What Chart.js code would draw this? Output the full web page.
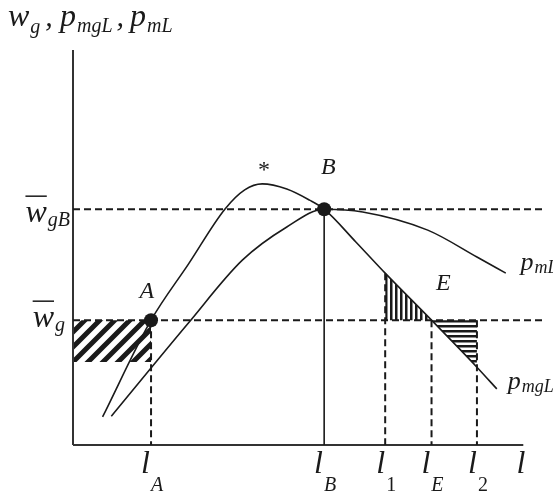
<!DOCTYPE html>
<html>
<head>
<meta charset="utf-8">
<script src="https://cdn.jsdelivr.net/npm/chart.js@4.4.1/dist/chart.umd.min.js"></script>
<style>
  html, body { margin: 0; padding: 0; background: #fff; }
  canvas { display: block; }
</style>
</head>
<body>
<canvas id="chart" width="553" height="494"></canvas>
<script>
// curve shapes (x = labour, y = value)
const pmgLX = [6.25, 16.5, 24.4, 32.1, 36.3, 40.0, 45.2, 50.0, 53.1, 59.8, 66.0, 75.8, 85.4, 89.6];
const pmgLY = [7.1, 31.6, 45.8, 59.7, 64.6, 66.1, 64.8, 62.0, 59.7, 51.4, 43.5, 31.6, 19.7, 14.2];
const pmLX = [8.1, 24.4, 35.8, 45.2, 53.1, 61.25, 75.0, 85.4, 91.5];
const pmLY = [7.3, 30.9, 46.8, 55.2, 59.7, 59.0, 54.4, 47.6, 43.5];

// x positions of l_A, l_B, l_1, l_E, l_2 and the axis name l
const xTicks = [16.5, 53.1, 66.0, 75.8, 85.4, 94.6];
const xTickSubs = ['A', 'B', '1', 'E', '2', ''];
const xGuideTops = [31.6, 59.7, 43.5, 31.6, 31.6];

// wage levels
const yLevels = [59.7, 31.6];
const yLevelSubs = ['gB', 'g'];

// marked points A and B
const dotX = [16.5, 53.1];
const dotY = [31.6, 59.7];

// hatched areas
const lossLeftX = [0, 16.5];
const lossLeftTop = 31.6;
const lossLeftBottom = 21.0;
const gainX = [66.0, 75.8];
const gainY = [43.5, 31.6];
const lossRightX = [75.8, 85.4];
const lossRightY = [31.6, 19.7];

const axisXEnd = 95.2;

// text marks
const annText = ['A', 'B', '*', 'E'];
const annX = [15.6, 54.0, 40.4, 78.3];
const annY = [38.7, 70.1, 70.6, 40.8];
const curveSubs = ['mL', 'mgL'];
const curveLabelX = [94.6, 91.9];
const curveLabelY = [44.3, 14.2];

const INK = '#1a1a1a';
const SERIF = '"Liberation Serif", "DejaVu Serif", serif';

function pts(xs, ys) {
    return xs.map((x, i) => ({ x, y: ys[i] }));
}

function line(data, extra) {
    return Object.assign({
        data,
        borderColor: INK,
        borderWidth: 1.6,
        pointRadius: 0,
        fill: false,
        tension: 0,
        clip: false,
        order: 5
    }, extra || {});
}

function hatch(kind) {
    const c = document.createElement('canvas');
    const g = c.getContext('2d');
    if (kind === 'diag') {
        const s = 15;
        c.width = s; c.height = s;
        g.strokeStyle = INK;
        g.lineWidth = 5;
        g.beginPath();
        g.moveTo(-s, s); g.lineTo(s, -s);
        g.moveTo(0, s * 2); g.lineTo(s * 2, 0);
        g.moveTo(0, s); g.lineTo(s, 0);
        g.stroke();
    } else if (kind === 'vert') {
        c.width = 5; c.height = 5;
        g.fillStyle = INK;
        g.fillRect(0, 0, 2.5, 5);
    } else {
        c.width = 5; c.height = 5;
        g.fillStyle = INK;
        g.fillRect(0, 0, 5, 2.5);
    }
    return g.createPattern(c, 'repeat');
}

const datasets = [];

// hatched areas first (drawn behind)
datasets.push(line(pts(lossLeftX, [lossLeftTop, lossLeftTop]), {
    borderWidth: 0, fill: { value: lossLeftBottom }, backgroundColor: hatch('diag'), order: 20
}));
datasets.push(line(pts(gainX, gainY), {
    borderWidth: 0, fill: { value: gainY[1] }, backgroundColor: hatch('vert'), order: 20
}));
datasets.push(line(pts(lossRightX, lossRightY), {
    borderWidth: 0, fill: { value: lossRightY[0] }, backgroundColor: hatch('horiz'), order: 20
}));

// axes
datasets.push(line(pts([0, 0], [0, 100]), { borderWidth: 2, borderColor: '#333', order: 10 }));
datasets.push(line(pts([0, axisXEnd], [0, 0]), { borderWidth: 2, borderColor: '#333', order: 10 }));

// dashed guides
yLevels.forEach(v => {
    datasets.push(line(pts([0, 100], [v, v]), { borderWidth: 2, borderDash: [7, 4], order: 9 }));
});
xTicks.slice(0, 5).forEach((v, i) => {
    const solid = i === 1;
    datasets.push(line(pts([v, v], [xGuideTops[i], 0]), {
        borderWidth: solid ? 1.6 : 2, borderDash: solid ? [] : [7, 4], order: 9
    }));
});

// curves
datasets.push(line(pts(pmgLX, pmgLY), { cubicInterpolationMode: 'monotone', order: 3 }));
datasets.push(line(pts(pmLX, pmLY), { cubicInterpolationMode: 'monotone', order: 3 }));

// points A, B
datasets.push(line(pts(dotX, dotY), {
    showLine: false, pointRadius: 7, pointBackgroundColor: INK, pointBorderWidth: 0, order: 1
}));

function drawSub(ctx, x, y, main, sub, size, subSize, subDrop, italicSub) {
    ctx.font = 'italic ' + size + 'px ' + SERIF;
    ctx.fillText(main, x, y);
    const w = ctx.measureText(main).width;
    ctx.font = (italicSub ? 'italic ' : '') + subSize + 'px ' + SERIF;
    ctx.fillText(sub, x + w + 1, y + subDrop);
    return w + 1 + ctx.measureText(sub).width;
}

function subWidth(ctx, main, sub, size, subSize, italicSub) {
    ctx.font = 'italic ' + size + 'px ' + SERIF;
    const w = ctx.measureText(main).width;
    ctx.font = (italicSub ? 'italic ' : '') + subSize + 'px ' + SERIF;
    return w + 1 + ctx.measureText(sub).width;
}

const textPlugin = {
    id: 'econText',
    afterDatasetsDraw(chart) {
        const ctx = chart.ctx;
        const xs = chart.scales.x;
        const ys = chart.scales.y;
        ctx.save();
        ctx.fillStyle = INK;
        ctx.strokeStyle = INK;
        ctx.textAlign = 'left';
        ctx.textBaseline = 'alphabetic';

        // axis title
        let cx = 8;
        cx += drawSub(ctx, cx, 26, 'w', 'g', 32, 20, 7, true);
        ctx.font = 'italic 30px ' + SERIF;
        ctx.fillText(',', cx + 5, 26);
        cx = 60;
        cx += drawSub(ctx, cx, 26, 'p', 'mgL', 32, 20, 6, true);
        ctx.font = 'italic 30px ' + SERIF;
        ctx.fillText(',', cx + 4, 26);
        cx = 130;
        drawSub(ctx, cx, 26, 'p', 'mL', 32, 20, 6, true);

        // x labels
        xTicks.forEach((v, i) => {
            const italic = isNaN(Number(xTickSubs[i]));
            const w = subWidth(ctx, 'l', xTickSubs[i], 32, 20, italic);
            const px = xs.getPixelForValue(v) - w / 2 + 1;
            drawSub(ctx, px, 473, 'l', xTickSubs[i], 32, 20, 18, italic);
        });

        // y labels with bar
        const yDrop = [13, 7];
        const yRight = [70, 65];
        yLevels.forEach((v, i) => {
            const w = subWidth(ctx, 'w', yLevelSubs[i], 32, 20, true);
            const px = yRight[i] - w;
            const py = ys.getPixelForValue(v) + yDrop[i];
            drawSub(ctx, px, py, 'w', yLevelSubs[i], 32, 20, 4, true);
            ctx.font = 'italic 32px ' + SERIF;
            const ww = ctx.measureText('w').width;
            ctx.lineWidth = 1.5;
            ctx.beginPath();
            ctx.moveTo(px, py - 26);
            ctx.lineTo(px + ww, py - 26);
            ctx.stroke();
        });

        // point / region letters
        ctx.textAlign = 'center';
        ctx.textBaseline = 'middle';
        annText.forEach((t, i) => {
            ctx.font = (t === '*' ? '' : 'italic ') + '24px ' + SERIF;
            ctx.fillText(t, xs.getPixelForValue(annX[i]), ys.getPixelForValue(annY[i]) + (t === '*' ? 5 : 0));
        });

        // curve names
        ctx.textAlign = 'left';
        ctx.textBaseline = 'alphabetic';
        curveSubs.forEach((s, i) => {
            drawSub(ctx, xs.getPixelForValue(curveLabelX[i]), ys.getPixelForValue(curveLabelY[i]), 'p', s, 26, 18, 3, true);
        });
        ctx.restore();
    }
};

const ctx = document.getElementById('chart').getContext('2d');
new Chart(ctx, {
    type: 'line',
    data: { datasets },
    options: {
        responsive: false,
        animation: false,
        layout: { padding: { left: 73, right: 0, top: 50, bottom: 49 } },
        scales: {
            x: { type: 'linear', min: 0, max: 100, display: false },
            y: { type: 'linear', min: 0, max: 100, display: false }
        },
        plugins: {
            legend: { display: false },
            tooltip: { enabled: false }
        }
    },
    plugins: [textPlugin]
});
</script>
</body>
</html>
